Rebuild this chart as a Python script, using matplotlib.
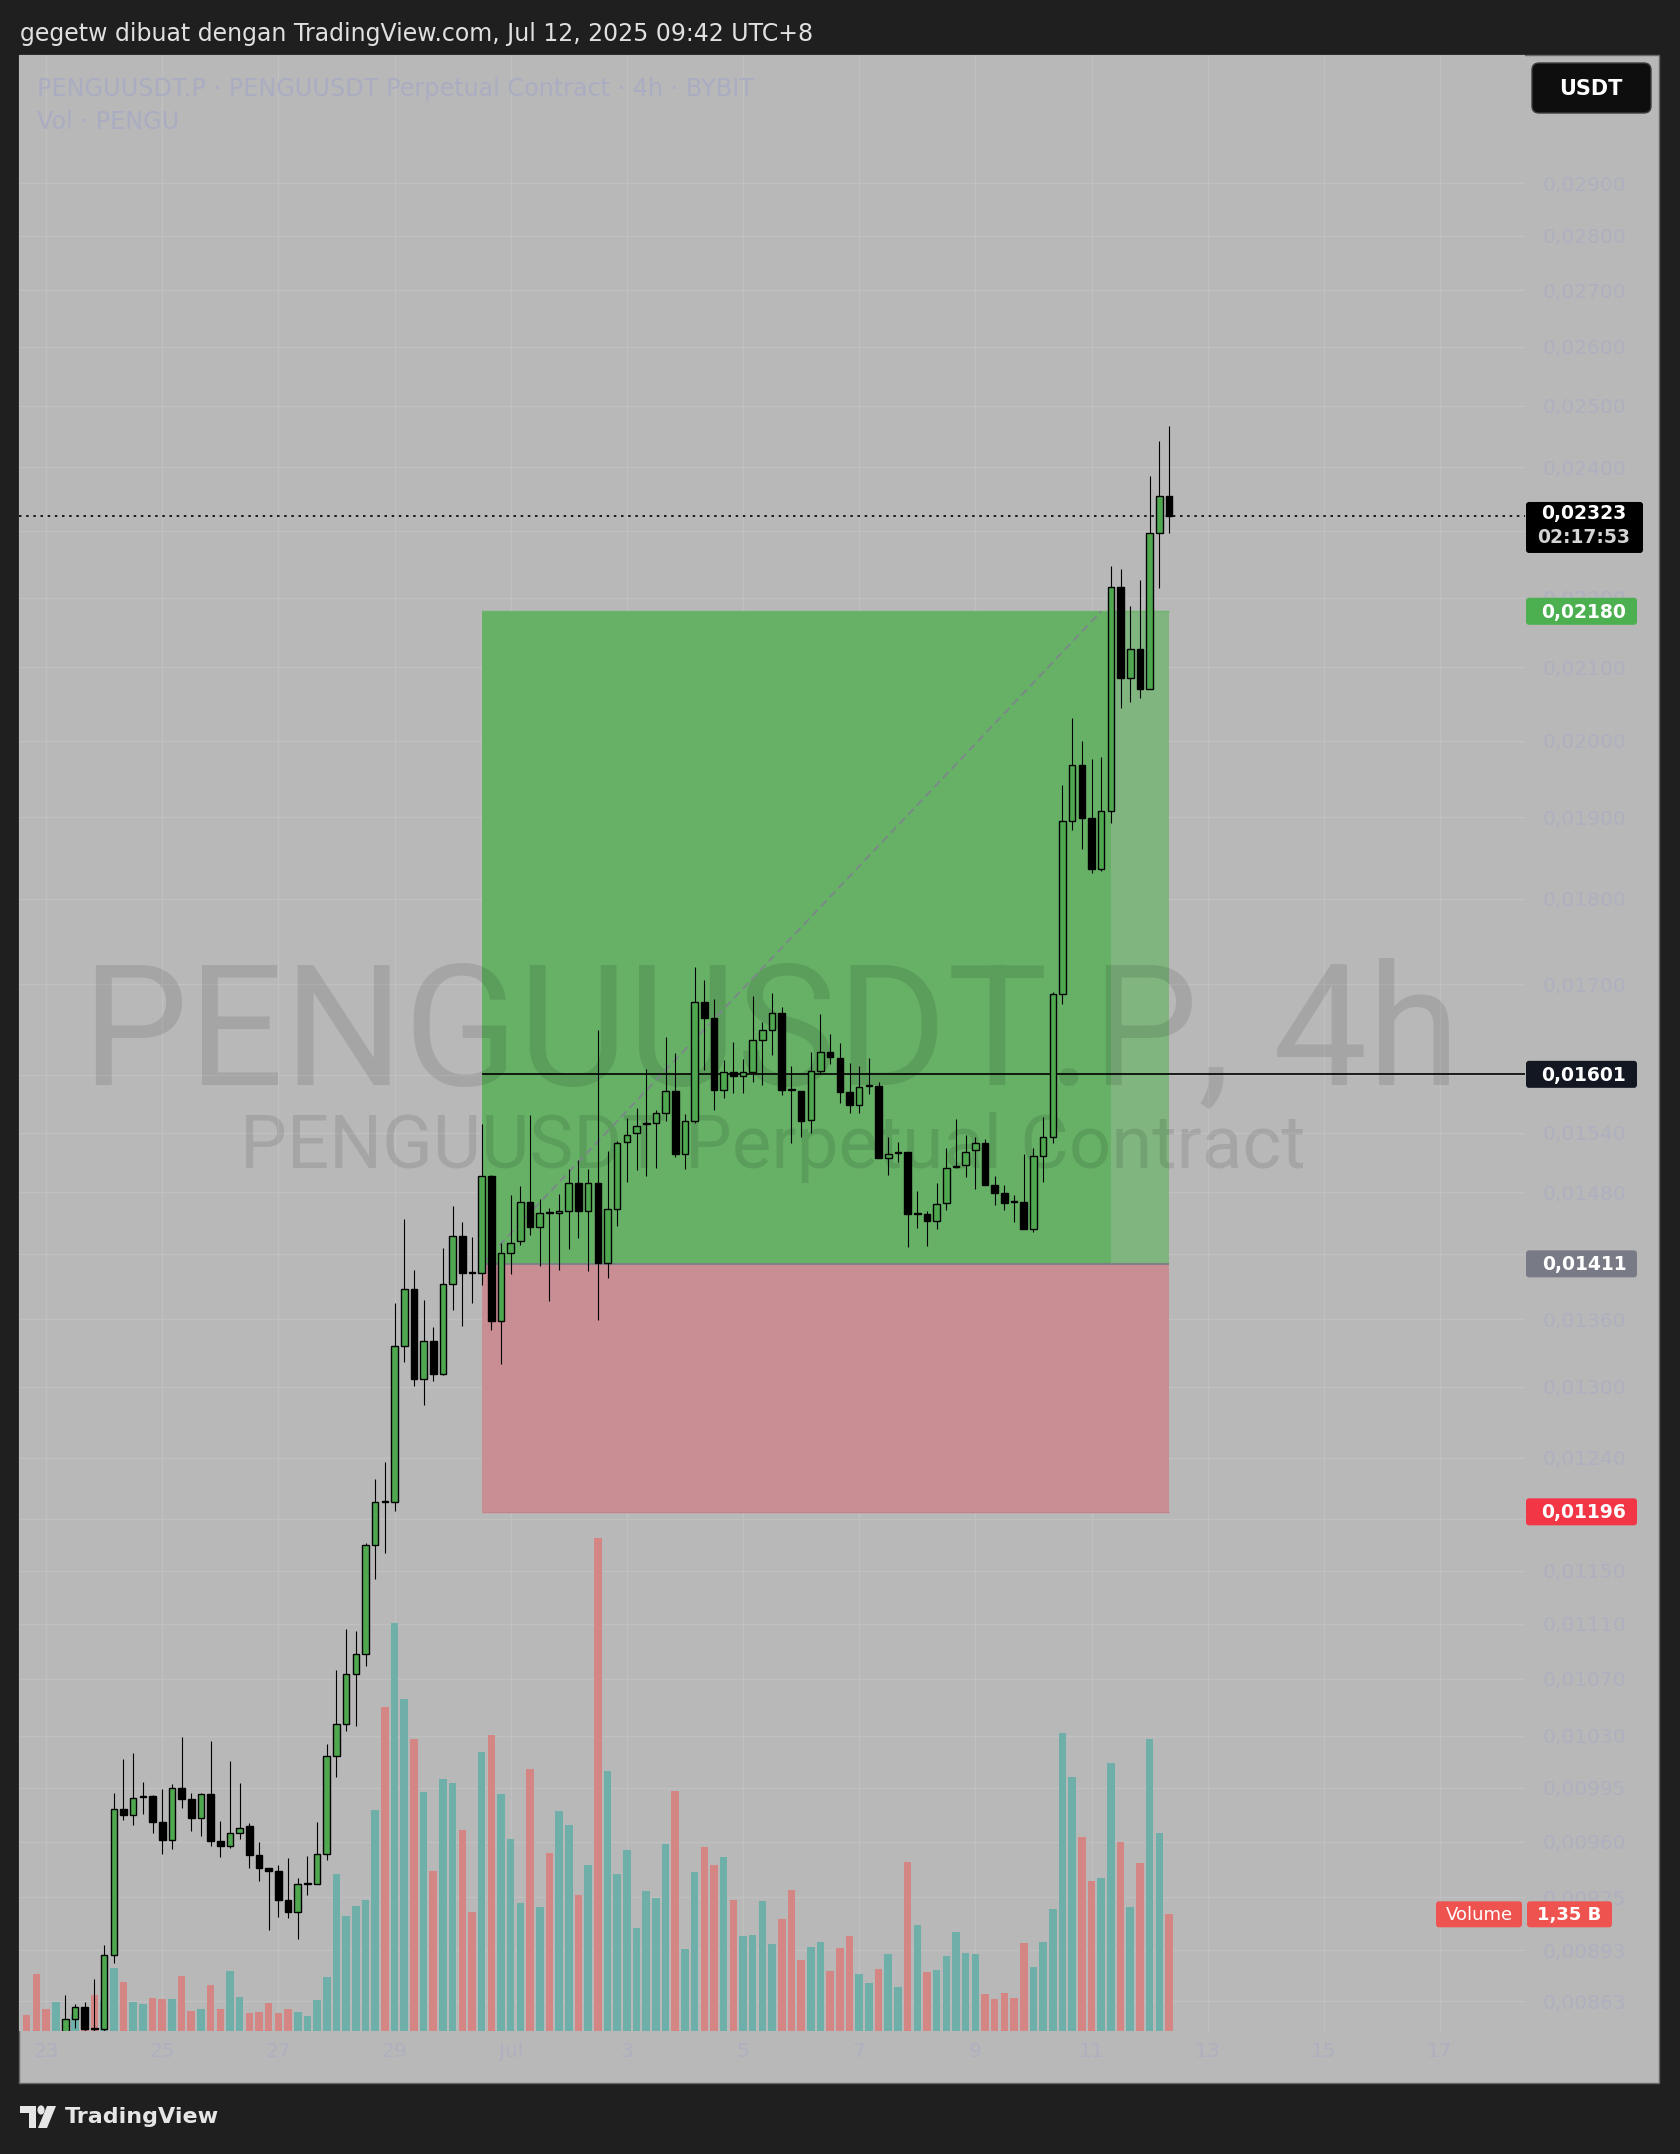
import numpy as np
import matplotlib
matplotlib.use("Agg")
import matplotlib.pyplot as plt
from matplotlib.patches import Rectangle, FancyBboxPatch, Circle, Polygon
from matplotlib.ticker import NullLocator

# ---------------- data (PENGUUSDT.P, 4h, Bybit) ----------------
opens = [0.00838, 0.00830, 0.00822, 0.00815, 0.00840, 0.008528, 0.008596, 0.00848, 0.00847, 0.008902,
         0.009812, 0.009774, 0.00989, 0.009896, 0.009723, 0.009611, 0.009949, 0.009875, 0.009749, 0.009911,
         0.009601, 0.00957, 0.009654, 0.009698, 0.009512, 0.009432, 0.009411, 0.009232, 0.009162, 0.00933,
         0.009333, 0.009522, 0.010161, 0.010382, 0.010736, 0.010881, 0.0117, 0.01205, 0.01204, 0.013361,
         0.013877, 0.013067, 0.013406, 0.013112, 0.013922, 0.014376, 0.01403, 0.01402, 0.014956, 0.013585,
         0.014215, 0.014322, 0.014704, 0.014457, 0.01461, 0.0146, 0.01462, 0.014892, 0.014612, 0.014892,
         0.014119, 0.01464, 0.0153, 0.0154, 0.01549, 0.0155, 0.015605, 0.01583, 0.015177, 0.015521,
         0.016798, 0.016627, 0.015848, 0.016037, 0.015992, 0.016037, 0.016381, 0.016491, 0.016683, 0.01585,
         0.01583, 0.015531, 0.01605, 0.016248, 0.01618, 0.015823, 0.015685, 0.01589, 0.015885, 0.01514,
         0.01519, 0.0152, 0.01459, 0.01459, 0.014515, 0.01469, 0.01505, 0.01507, 0.01522, 0.01529,
         0.014869, 0.014795, 0.01471, 0.0147, 0.014441, 0.015159, 0.01536, 0.016893, 0.018961, 0.019674,
         0.01899, 0.018353, 0.019088, 0.022156, 0.020851, 0.021259, 0.020701, 0.022962, 0.023535]
highs = [0.00844, 0.0084, 0.00834, 0.00844, 0.008668, 0.008616, 0.008627, 0.008762, 0.008961, 0.009918,
         0.010142, 0.010184, 0.009991, 0.009905, 0.009939, 0.009977, 0.010294, 0.009918, 0.009915, 0.010266,
         0.009734, 0.010128, 0.009983, 0.00972, 0.009597, 0.009432, 0.009453, 0.009496, 0.009369, 0.00951,
         0.009723, 0.010247, 0.010764, 0.011064, 0.011048, 0.011715, 0.012223, 0.012368, 0.013751, 0.014537,
         0.014054, 0.013772, 0.013526, 0.014264, 0.01466, 0.014505, 0.014366, 0.015487, 0.014972, 0.014312,
         0.014769, 0.014866, 0.015587, 0.01473, 0.014643, 0.014779, 0.015029, 0.015125, 0.015032, 0.016487,
         0.015217, 0.015314, 0.015549, 0.015652, 0.016066, 0.015639, 0.016418, 0.016234, 0.01559, 0.0172,
         0.01705, 0.01683, 0.016168, 0.016363, 0.016176, 0.01687, 0.016573, 0.0169, 0.01675, 0.016095,
         0.01583, 0.016248, 0.016662, 0.016443, 0.016352, 0.016132, 0.016102, 0.016187, 0.015926, 0.01535,
         0.015308, 0.0152, 0.014817, 0.014612, 0.014892, 0.015238, 0.015538, 0.015373, 0.015356, 0.015332,
         0.014962, 0.014875, 0.014769, 0.015177, 0.015238, 0.015556, 0.016912, 0.01941, 0.020305, 0.019995,
         0.019757, 0.019783, 0.022467, 0.02242, 0.02188, 0.022252, 0.023859, 0.024425, 0.02467]
lows = [0.00825, 0.008, 0.00808, 0.0081, 0.00835, 0.00848, 0.00845, 0.00845, 0.00845, 0.008854,
        0.009738, 0.009706, 0.009778, 0.009656, 0.009522, 0.009552, 0.00982, 0.009665, 0.009633, 0.009573,
        0.009503, 0.009559, 0.009614, 0.00943, 0.009348, 0.009048, 0.009127, 0.00912, 0.008994, 0.009263,
        0.00933, 0.009485, 0.010021, 0.010336, 0.010371, 0.010794, 0.011434, 0.011636, 0.01197, 0.013217,
        0.01301, 0.01284, 0.013046, 0.0131, 0.013684, 0.01354, 0.013745, 0.013915, 0.013504, 0.013202,
        0.014015, 0.014289, 0.014383, 0.014093, 0.013765, 0.014054, 0.014254, 0.014357, 0.014047, 0.013594,
        0.013981, 0.014473, 0.014901, 0.015022, 0.014956, 0.015039, 0.015521, 0.015153, 0.015029, 0.0155,
        0.016058, 0.015639, 0.015758, 0.015814, 0.015814, 0.01593, 0.015893, 0.016223, 0.015788, 0.01529,
        0.01535, 0.015401, 0.016014, 0.016124, 0.015706, 0.015605, 0.015605, 0.015802, 0.015143, 0.01497,
        0.015101, 0.014273, 0.014447, 0.01428, 0.014441, 0.014624, 0.01504, 0.01495, 0.014827, 0.014869,
        0.014671, 0.014627, 0.014505, 0.014441, 0.014409, 0.014901, 0.015297, 0.016784, 0.018837, 0.0186,
        0.018312, 0.01833, 0.018936, 0.020441, 0.02052, 0.020578, 0.0207, 0.022148, 0.022972]
closes = [0.0083, 0.00812, 0.00815, 0.0084, 0.008528, 0.008596, 0.008474, 0.00847, 0.008902, 0.009812,
          0.009774, 0.009886, 0.009896, 0.009723, 0.009611, 0.009949, 0.009875, 0.009749, 0.009911, 0.009601,
          0.00957, 0.009654, 0.00969, 0.009512, 0.009432, 0.009411, 0.009232, 0.009162, 0.009333, 0.009337,
          0.009522, 0.010161, 0.010382, 0.010736, 0.010881, 0.0117, 0.012038, 0.01204, 0.013361, 0.013871,
          0.013067, 0.013406, 0.013112, 0.013922, 0.014376, 0.014028, 0.01402, 0.014956, 0.013585, 0.014215,
          0.014312, 0.014704, 0.014457, 0.014592, 0.0146, 0.014612, 0.014892, 0.014612, 0.014892, 0.014119,
          0.01464, 0.01529, 0.015373, 0.015469, 0.0155, 0.015605, 0.01583, 0.015177, 0.015521, 0.016798,
          0.016627, 0.015848, 0.016037, 0.015992, 0.016033, 0.016381, 0.016491, 0.016683, 0.015848, 0.01584,
          0.015521, 0.016047, 0.016248, 0.016193, 0.015823, 0.015682, 0.015872, 0.015901, 0.015143, 0.015177,
          0.0152, 0.014585, 0.014595, 0.014515, 0.014689, 0.015045, 0.015066, 0.015205, 0.01529, 0.014869,
          0.014795, 0.014698, 0.0147, 0.014441, 0.015159, 0.015356, 0.016893, 0.018961, 0.019674, 0.01899,
          0.018353, 0.019088, 0.022156, 0.020851, 0.021259, 0.020701, 0.022962, 0.023535, 0.023233]
volumes_m = [182, 656, 258, 332, 139, 185, 162, 413, 347, 732,
             570, 332, 309, 378, 367, 367, 633, 231, 251, 529,
             251, 698, 390, 208, 216, 320, 208, 258, 216, 170,
             355, 621, 1820, 1327, 1443, 1512, 2553, 3745, 4724, 3845,
             3375, 2762, 1848, 2912, 2866, 2322, 1373, 3225, 3421, 2739,
             2218, 1484, 3028, 1431, 2059, 2542, 2380, 1570, 1917, 5700,
             3005, 1813, 2098, 1188, 1616, 1535, 2160, 2773, 945, 1836,
             2125, 1917, 2010, 1512, 1096, 1107, 1501, 1003, 1292, 1628,
             818, 968, 1026, 691, 957, 1096, 656, 552, 714, 887,
             506, 1952, 1223, 679, 702, 864, 1142, 899, 887, 425,
             367, 436, 378, 1015, 737, 1026, 1415, 3444, 2935, 2248,
             1732, 1767, 3097, 2183, 1431, 1940, 3375, 2287, 1350]

time_tick_bars = [2, 14, 26, 38, 50, 62, 74, 86, 98, 110, 122, 134, 146]
time_tick_labels = ["23", "25", "27", "29", "Jul", "3", "5", "7", "9", "11", "13", "15", "17"]
price_ticks = [0.029, 0.028, 0.027, 0.026, 0.025, 0.024, 0.023, 0.022, 0.021, 0.020, 0.019, 0.018,
               0.017, 0.016, 0.0154, 0.0148, 0.0142, 0.0136, 0.0130, 0.0124, 0.0119, 0.0115, 0.0111,
               0.0107, 0.0103, 0.00995, 0.0096, 0.00925, 0.00893, 0.00863]
# tick labels that sit fully under a coloured price label in the reference
covered_ticks = [0.023, 0.016, 0.0142, 0.0119]

# long position tool
pos_start_bar, pos_hit_bar, pos_end_bar = 47, 112, 118
entry_price, target_price, stop_price = 0.01411, 0.02180, 0.01196
hline_price = 0.01601
last_price = 0.02323
countdown = "02:17:53"
last_volume_label = "1,35 B"

# ---------------- figure ----------------
W, H, DPI = 1680, 2154, 100
BG = "#b8b8b8"
fig = plt.figure(figsize=(W / DPI, H / DPI), dpi=DPI)
fig.patch.set_facecolor("#1f1f1f")


def fxy(x, y):
    return x / W, 1 - y / H


L, R, T, B = 19, 1525, 55, 2031
rect = [L / W, 1 - B / H, (R - L) / W, (B - T) / H]

fig.add_artist(Rectangle(fxy(19, 2083), (1659 - 19) / W, (2083 - 55) / H, transform=fig.transFigure,
                         facecolor=BG, edgecolor="#686868", lw=1.0, zorder=-1))

XMIN, XMAX = -0.795, 154.78
YMIN, YMAX = 0.008461, 0.031587
VOL_TOP = 22858

ax_bg = fig.add_axes(rect, zorder=1)
ax_vol = fig.add_axes(rect, zorder=2)
ax = fig.add_axes(rect, zorder=3)
for a in (ax_bg, ax_vol, ax):
    a.set_xlim(XMIN, XMAX)
    for s in a.spines.values():
        s.set_visible(False)
ax_bg.set_facecolor(BG)
ax_vol.patch.set_visible(False)
ax.patch.set_visible(False)
for a in (ax_bg, ax):
    a.set_yscale("log")
    a.set_ylim(YMIN, YMAX)
ax_vol.set_ylim(0, VOL_TOP)
ax_vol.axis("off")
ax.axis("off")

TICKC = "#aeb0bf"
ax_bg.yaxis.tick_right()
ax_bg.set_yticks(price_ticks, labels=["" if p in covered_ticks else f"{p:.5f}".replace(".", ",")
                                      for p in price_ticks])
ax_bg.yaxis.set_minor_locator(NullLocator())
ax_bg.set_xticks(time_tick_bars, labels=time_tick_labels)
ax_bg.tick_params(axis="y", length=0, pad=13, labelsize=14.5, labelcolor=TICKC)
ax_bg.tick_params(axis="x", length=0, pad=8, labelsize=14.5, labelcolor=TICKC)
ax_bg.grid(True, color="#c0c0c0", lw=1.0)
ax_bg.set_axisbelow(True)

# volume
o = np.array(opens); h = np.array(highs); l = np.array(lows); c = np.array(closes)
idx = np.arange(len(o))
up = c >= o
vol_colors = np.where(up, "#6fafa9", "#d48684")
ax_vol.bar(idx, volumes_m, width=0.78, color=vol_colors, lw=0)

# position tool
ax.add_patch(Rectangle((pos_start_bar, entry_price), pos_hit_bar - pos_start_bar, target_price - entry_price,
                       facecolor="#66b166", lw=0, zorder=1))
ax.add_patch(Rectangle((pos_hit_bar, entry_price), pos_end_bar - pos_hit_bar, target_price - entry_price,
                       facecolor="#80b580", lw=0, zorder=1))
ax.add_patch(Rectangle((pos_start_bar, stop_price), pos_end_bar - pos_start_bar, entry_price - stop_price,
                       facecolor="#c98d94", lw=0, zorder=1))
ax.hlines(entry_price, pos_start_bar, pos_end_bar, color="#7b7e88", lw=1.3, zorder=2)
ax.hlines(stop_price, pos_start_bar, pos_end_bar, color="#c2838b", lw=1.0, zorder=2)
ax.hlines(target_price, pos_start_bar, pos_end_bar, color="#6cb36c", lw=1.0, zorder=2)
ax.plot([pos_start_bar, pos_hit_bar - 1], [entry_price, target_price], color="#7d868a", lw=1.3,
        ls=(0, (4.5, 2.5)), zorder=2)

# watermark (baselines placed, widths fitted below)
wm1 = ax.text(0.4993, 0.4787, "PENGUUSDT.P, 4h", transform=ax.transAxes, ha="center", va="baseline",
              fontsize=120, family="Roboto", color="black", alpha=0.10, zorder=1.5)
wm2 = ax.text(0.5007, 0.4367, "PENGUUSDT Perpetual Contract", transform=ax.transAxes, ha="center",
              va="baseline", fontsize=55, family="Roboto", color="black", alpha=0.10, zorder=1.5)

# lines
ax.hlines(hline_price, pos_start_bar, XMAX, color="black", lw=1.2, zorder=3)
ax.hlines(last_price, XMIN, XMAX, color="black", lw=1.2, ls=(0, (1.5, 2.8)), zorder=3)

# candles
ax.vlines(idx, l, h, color="black", lw=0.8, zorder=4)
bot = np.minimum(o, c)
top = np.maximum(o, c)
ax.bar(idx, top - bot, bottom=bot, width=0.68, color=np.where(up, "#4fa84f", "black"),
       edgecolor="black", lw=1.0, zorder=5)


# ---------------- labels on price scale ----------------
def py(price):
    return H - ax.transData.transform((0, price))[1]


def box(x0, x1, y0, y1, color, r=3, edge="none", z=10):
    fig.add_artist(FancyBboxPatch((x0 / W, 1 - y1 / H), (x1 - x0) / W, (y1 - y0) / H,
                                  boxstyle=f"round,pad=0,rounding_size={r / W}", mutation_aspect=W / H,
                                  transform=fig.transFigure, facecolor=color, edgecolor=edge, lw=1.0, zorder=z))


def label(price, color, text):
    yc = py(price)
    box(1526, 1637, yc - 13.5, yc + 13.5, color)
    fig.text(*fxy(1584, yc + 1), text, ha="center", va="center", color="white", fontsize=13.5,
             fontweight="bold", zorder=11)


yl = py(last_price)
box(1526, 1643, yl - 14, yl + 37, "#000000")
fig.text(*fxy(1584, yl - 2), f"{last_price:.5f}".replace(".", ","), ha="center", va="center",
         color="white", fontsize=13.5, fontweight="bold", zorder=11)
fig.text(*fxy(1584, yl + 22), countdown, ha="center", va="center", color="#d4d4d4", fontsize=13.5,
         fontweight="bold", zorder=11)
label(target_price, "#4caf50", f"{target_price:.5f}".replace(".", ","))
label(hline_price, "#131722", f"{hline_price:.5f}".replace(".", ","))
label(entry_price, "#787b86", f"{entry_price:.5f}".replace(".", ","))
label(stop_price, "#f23645", f"{stop_price:.5f}".replace(".", ","))

# volume label
yv = H - ax_vol.transData.transform((0, volumes_m[-1]))[1]
box(1436, 1522, yv - 13, yv + 13, "#ef5350")
box(1527, 1612, yv - 13, yv + 13, "#ef5350")
fig.text(*fxy(1479, yv + 1), "Volume", ha="center", va="center", color="white", fontsize=13, zorder=11)
fig.text(*fxy(1569, yv + 1), last_volume_label, ha="center", va="center", color="white", fontsize=13,
         fontweight="bold", zorder=11)

# USDT button
box(1532, 1651, 63, 113, "#0e0e0e", r=7, edge="#3c3c3c")
fig.text(*fxy(1591, 89), "USDT", ha="center", va="center", color="white", fontsize=15, fontweight="bold",
         zorder=11)

# legends
leg1 = fig.text(*fxy(37, 89), "PENGUUSDT.P · PENGUUSDT Perpetual Contract · 4h · BYBIT", ha="left",
                va="center", color="#aaadc2", fontsize=16.5, zorder=11)
leg2 = fig.text(*fxy(37, 122), "Vol · PENGU", ha="left", va="center", color="#aaadc2", fontsize=16.5, zorder=11)

# header / footer
head = fig.text(*fxy(20, 34), "gegetw dibuat dengan TradingView.com, Jul 12, 2025 09:42 UTC+8", ha="left",
                va="center", color="#e0e0e0", fontsize=16.5)
LOGO = "#e6e6e6"
fig.add_artist(Polygon([fxy(20, 2106), fxy(36, 2106), fxy(36, 2128), fxy(29, 2128), fxy(29, 2113), fxy(20, 2113)],
                       closed=True, transform=fig.transFigure, facecolor=LOGO, edgecolor="none"))
fig.add_artist(Polygon([fxy(47, 2106), fxy(56, 2106), fxy(47, 2128), fxy(38, 2128)],
                       closed=True, transform=fig.transFigure, facecolor=LOGO, edgecolor="none"))
fig.add_artist(Circle(fxy(41, 2110), 3.6 / W, transform=fig.transFigure, facecolor=LOGO, edgecolor="none"))
foot = fig.text(*fxy(65, 2117), "TradingView", ha="left", va="center", color=LOGO, fontsize=17,
                fontweight="bold")

# fit text widths to the reference
fig.canvas.draw()
rend = fig.canvas.get_renderer()


def fit(t, target_px):
    w = t.get_window_extent(renderer=rend).width
    t.set_fontsize(t.get_fontsize() * target_px / w)


fit(wm1, 1378)
fit(wm2, 1065)
fit(head, 795)
fit(leg1, 715)
leg2.set_fontsize(leg1.get_fontsize())
fit(foot, 154)

fig.savefig("out.png", dpi=DPI, facecolor=fig.get_facecolor())
